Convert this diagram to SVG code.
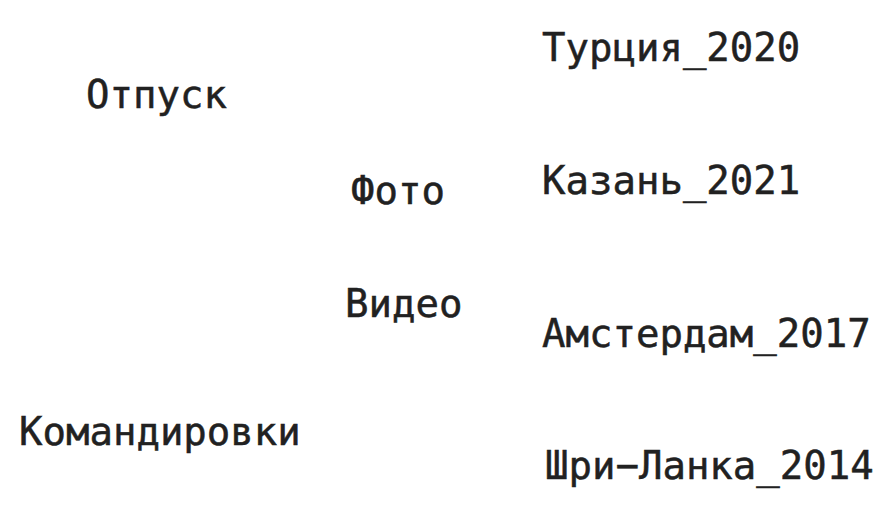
<svg xmlns="http://www.w3.org/2000/svg" width="893" height="505" viewBox="0 0 893 505">
<style>
text{font-family:"DejaVu Sans Mono",monospace;font-size:39px;fill:#212121;stroke:#212121;stroke-width:0.5px}
</style>
<rect width="893" height="505" fill="#fff"/>
<g id="otpusk"><text x="86" y="108">Отпуск</text></g>
<g id="komandirovki"><text x="19" y="445">Командировки</text></g>
<g id="foto"><text x="351" y="204">Фото</text></g>
<g id="video"><text x="345" y="317">Видео</text></g>
<g id="turkey"><text x="542" y="61">Турция_2020</text></g>
<g id="kazan"><text x="542" y="194">Казань_2021</text></g>
<g id="amsterdam"><text x="542" y="347">Амстердам_2017</text></g>
<g id="srilanka"><text x="545" y="479">Шри−Ланка_2014</text></g>
<g id="connectors"></g>
</svg>
